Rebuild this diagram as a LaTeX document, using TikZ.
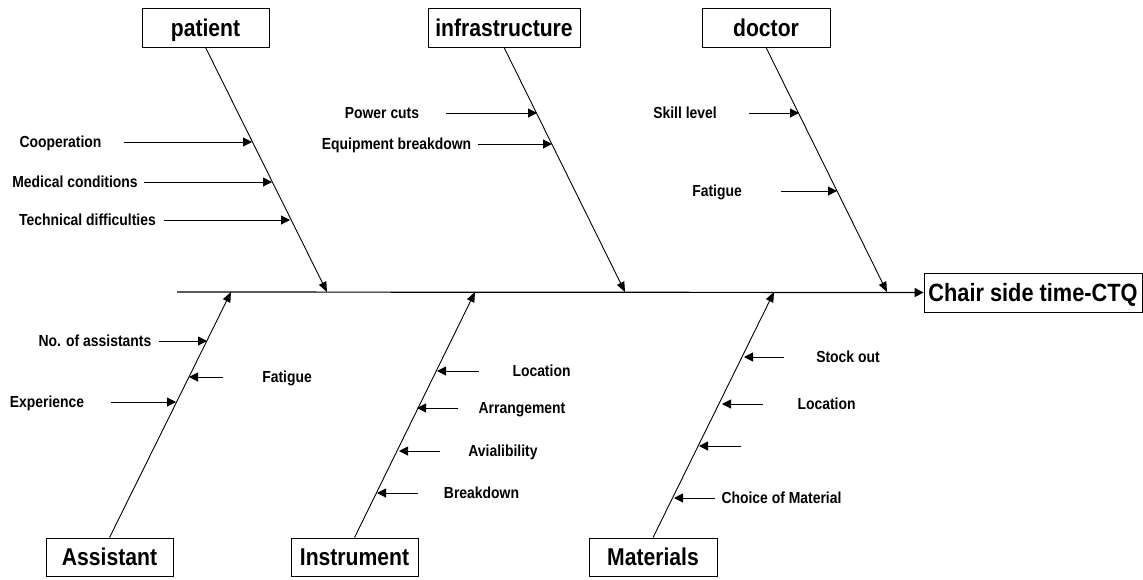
\documentclass[tikz,border=0pt]{standalone}
\usepackage{fontspec}
\setmainfont{Liberation Sans}[FakeStretch=0.87]
\usetikzlibrary{arrows.meta}
\tikzset{
 box/.style={draw, line width=0.8pt, inner sep=0pt, minimum height=39pt, text height=17.5pt, text depth=0pt, font=\fontsize{24.3}{28}\selectfont\bfseries},
 lab/.style={inner sep=0pt, text height=11.5pt, text depth=0pt, font=\fontsize{16}{19}\selectfont\bfseries},
 bone/.style={line width=0.9pt, -{Triangle[length=10pt,width=8pt]}},
 sub/.style={line width=1pt, -{Triangle[length=9pt,width=9pt]}},
 spine/.style={line width=1.2pt, -{Triangle[length=9pt,width=9pt]}}
}
\begin{document}
\begin{tikzpicture}[x=1pt,y=-1pt]
\useasboundingbox (0,0) rectangle (1143,579);
% boxes
\node[box, minimum width=127pt] (patient) at (205.5,27.5) {patient};
\node[box, minimum width=152pt] (infra) at (504,27.5) {infrastructure};
\node[box, minimum width=128pt] (doctor) at (766,27.5) {doctor};
\node[box, minimum width=218pt, font=\fontsize{25}{29}\selectfont\bfseries] (ctq) at (1033,292.5) {Chair side time-CTQ};
\node[box, minimum width=127pt, minimum height=38pt] (assist) at (109.5,557) {Assistant};
\node[box, minimum width=127pt, minimum height=38pt] (instr) at (354.5,557) {Instrument};
\node[box, minimum width=128pt, minimum height=38pt] (mater) at (653,557) {Materials};
% spine
\coordinate (s0) at (177,292);
\coordinate (p1) at (327,292);
\coordinate (p2) at (625,292);
\coordinate (p3) at (887,292);
\coordinate (q1) at (231,292);
\coordinate (q2) at (475,292);
\coordinate (q3) at (774,292);
\draw[spine] (s0) -- (ctq.west);
% bones
\draw[bone] (patient.south) -- (p1);
\draw[bone] (infra.south) -- (p2);
\draw[bone] (doctor.south) -- (p3);
\draw[bone] (assist.north) -- (q1);
\draw[bone] (instr.north) -- (q2);
\draw[bone] (mater.north) -- (q3);
% patient causes
\node[lab] (l1) at (60.5,142) {Cooperation};
\node[lab] (l2) at (75,182) {Medical conditions};
\node[lab] (l3) at (87.5,220) {Technical difficulties};
\coordinate (a1) at (124,142); \coordinate (b1) at (252,142);
\coordinate (a2) at (144,182); \coordinate (b2) at (272,182);
\coordinate (a3) at (164,220); \coordinate (b3) at (290,220);
\draw[sub] (a1) -- (b1);
\draw[sub] (a2) -- (b2);
\draw[sub] (a3) -- (b3);
% infrastructure causes
\node[lab] (l4) at (382,113) {Power cuts};
\node[lab] (l5) at (396.5,144) {Equipment breakdown};
\coordinate (a4) at (446,113); \coordinate (b4) at (537,113);
\coordinate (a5) at (478,144); \coordinate (b5) at (552,144);
\draw[sub] (a4) -- (b4);
\draw[sub] (a5) -- (b5);
% doctor causes
\node[lab] (l6) at (685,113) {Skill level};
\node[lab] (l7) at (717,191) {Fatigue};
\coordinate (a6) at (749,113); \coordinate (b6) at (799,113);
\coordinate (a7) at (781,191); \coordinate (b7) at (837,191);
\draw[sub] (a6) -- (b6);
\draw[sub] (a7) -- (b7);
% assistant causes
\node[lab] (l8) at (95,341) {No. of assistants};
\node[lab] (l9) at (287,377) {Fatigue};
\node[lab] (l10) at (47,402) {Experience};
\coordinate (a8) at (159,341); \coordinate (b8) at (207,341);
\coordinate (a9) at (223,377); \coordinate (b9) at (189,377);
\coordinate (a10) at (111,402); \coordinate (b10) at (176,402);
\draw[sub] (a8) -- (b8);
\draw[sub] (a9) -- (b9);
\draw[sub] (a10) -- (b10);
% instrument causes
\node[lab] (l11) at (541.5,371) {Location};
\node[lab] (l12) at (522,408) {Arrangement};
\node[lab] (l13) at (503,451) {Avialibility};
\node[lab] (l14) at (481.5,493) {Breakdown};
\coordinate (a11) at (479,371); \coordinate (b11) at (437,371);
\coordinate (a12) at (458,408); \coordinate (b12) at (417,408);
\coordinate (a13) at (440,451); \coordinate (b13) at (399,451);
\coordinate (a14) at (418,493); \coordinate (b14) at (377,493);
\draw[sub] (a11) -- (b11);
\draw[sub] (a12) -- (b12);
\draw[sub] (a13) -- (b13);
\draw[sub] (a14) -- (b14);
% materials causes
\node[lab] (l15) at (848,357) {Stock out};
\node[lab] (l16) at (826.5,404) {Location};
\node[lab] (l17) at (781.5,498) {Choice of Material};
\coordinate (a15) at (784,357); \coordinate (b15) at (744,357);
\coordinate (a16) at (763,404); \coordinate (b16) at (722,404);
\coordinate (a17) at (741,446); \coordinate (b17) at (699,446);
\coordinate (a18) at (715,498); \coordinate (b18) at (674,498);
\draw[sub] (a15) -- (b15);
\draw[sub] (a16) -- (b16);
\draw[sub] (a17) -- (b17);
\draw[sub] (a18) -- (b18);
\end{tikzpicture}
\end{document}
